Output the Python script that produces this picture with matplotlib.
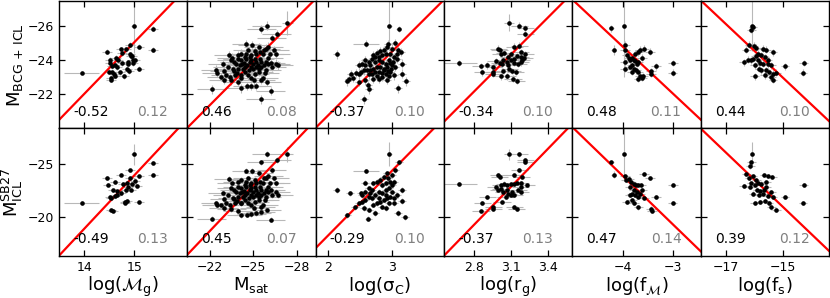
import matplotlib
matplotlib.use("Agg")
import matplotlib.pyplot as plt
import numpy as np

plt.rcParams['mathtext.fontset'] = 'dejavusans'

# ---- axes set-up -----------------------------------------------------------
x_labels = [r'log($\mathcal{M}_{\rm g}$)', r'M$_{\rm sat}$', r'log($\mathrm{\sigma_C}$)',
            r'log(r$_{\rm g}$)', r'log(f$_{\mathcal{M}}$)', r'log(f$_{\rm s}$)']
y_labels = [r'M$_{\rm BCG\,+\,ICL}$', r'M$_{\rm ICL}^{\rm SB27}$']
x_ticks = [[14, 15], [-22, -25, -28], [2, 3], [2.8, 3.1, 3.4], [-4, -3], [-17, -15]]
x_lims = [(13.49, 16.07), (-20.47, -29.29), (1.80, 3.82), (2.56, 3.60), (-5.03, -2.43), (-17.87, -13.40)]
y_ticks = [[-26, -24, -22], [-25, -20]]
y_lims = [(-20.0, -27.45), (-16.4, -28.4)]

# correlation coefficient (left, black) and scatter (right, grey)
corr_top = ['-0.52', '0.46', '-0.37', '-0.34', '0.48', '0.44']
scat_top = ['0.12', '0.08', '0.10', '0.10', '0.11', '0.10']
corr_bot = ['-0.49', '0.45', '-0.29', '-0.37', '0.47', '0.39']
scat_bot = ['0.13', '0.07', '0.10', '0.13', '0.14', '0.12']

# red relations: slope, intercept
slope_top = [-3.0, 0.855, -3.71, -7.23, 2.70, 1.58]
icpt_top = [19.98, -2.53, -13.35, -1.88, -13.95, 0.75]
slope_bot = [-5.0, 1.44, -6.06, -11.95, 4.5, 2.58]
icpt_bot = [51.05, 12.98, -6.21, 14.19, -5.88, 17.72]

# ---- data ------------------------------------------------------------------
mg_top_x = [13.95, 14.99, 15.37, 15.38, 15.10, 14.91, 14.46, 14.73, 14.83, 14.76, 14.52, 14.63, 14.67,
            14.91, 14.95, 14.87, 14.97, 15.01, 14.61, 14.66, 14.75, 14.87, 14.51, 14.55, 14.49, 14.55,
            14.59, 14.85, 14.90, 14.97, 15.10, 14.79, 14.53, 14.54, 14.62, 14.71, 14.93]
mg_top_y = [-23.26, -26.00, -25.83, -24.59, -24.76, -24.88, -24.47, -24.63, -24.61, -24.40, -24.01, -24.11,
            -24.01, -24.32, -24.20, -23.86, -24.01, -23.97, -23.72, -23.58, -23.80, -23.78, -23.82, -23.62,
            -23.31, -23.28, -23.16, -23.45, -23.35, -23.82, -23.49, -23.04, -22.97, -22.85, -23.08, -23.28, -24.20]
mg_bot_x = [13.95, 14.99, 15.37, 15.38, 15.10, 14.91, 14.46, 14.73, 14.48, 14.61, 14.78, 14.85, 14.95, 14.91,
            15.01, 14.58, 14.66, 14.65, 14.73, 14.51, 14.53, 14.61, 14.83, 14.93, 14.88, 15.05, 14.81, 14.82,
            14.85, 15.10, 14.54, 14.57]
mg_bot_y = [-21.38, -25.94, -25.16, -24.03, -23.88, -24.44, -23.72, -24.03, -23.09, -23.34, -23.19, -23.25,
            -23.19, -23.75, -23.44, -22.56, -22.47, -22.16, -22.31, -21.94, -21.88, -22.00, -22.56, -22.63,
            -22.88, -23.00, -21.47, -21.38, -21.59, -21.41, -20.75, -20.63]

msat_x = [-27.35, -25.94, -25.56, -26.61, -26.26, -24.52, -24.94, -25.38, -26.03, -26.44,
          -25.87, -25.75, -23.30, -23.53, -23.94, -24.18, -24.64, -25.10, -25.22, -25.45,
          -25.68, -26.14, -26.54, -26.03, -26.21, -26.54, -26.72, -25.91, -26.26, -25.80,
          -25.94, -26.21, -25.52, -25.22, -24.87, -24.59, -24.18, -22.14, -22.97, -22.79,
          -23.48, -23.94, -24.18, -22.44, -22.51, -23.02, -23.25, -23.60, -23.71, -23.48,
          -23.83, -24.06, -24.29, -24.41, -24.64, -24.87, -25.10, -25.38, -25.52, -25.68,
          -25.06, -24.13, -23.90, -23.76, -23.13, -23.37, -22.90, -23.94, -24.18, -24.41,
          -24.52, -24.75, -24.87, -24.99, -25.10, -25.22, -25.33, -25.45, -25.56, -24.36,
          -24.59, -24.82, -24.99, -24.69, -24.45, -24.22, -23.94, -23.71, -24.75, -24.52,
          -24.82, -25.22, -25.38, -25.56, -25.75, -25.87, -25.98]
msat_top_y = [-26.15, -26.00, -25.81, -25.52, -25.29, -24.94, -24.88, -24.74, -24.78, -24.55,
              -24.65, -24.59, -24.26, -24.13, -24.26, -24.36, -24.55, -24.51, -24.36, -24.45,
              -24.36, -24.36, -24.36, -24.13, -23.82, -23.78, -23.68, -23.39, -23.58, -23.24,
              -22.71, -22.17, -21.69, -22.46, -22.46, -22.46, -22.33, -22.27, -22.85, -23.00,
              -22.81, -22.71, -22.97, -23.43, -23.24, -23.35, -23.58, -23.49, -23.87, -23.97,
              -23.78, -23.68, -23.49, -23.29, -23.10, -22.97, -23.16, -23.29, -22.85, -22.97,
              -22.81, -23.10, -23.24, -23.10, -23.10, -23.00, -23.78, -24.07, -23.97, -24.16,
              -24.07, -24.16, -23.97, -23.78, -24.07, -23.87, -23.68, -24.07, -23.87, -23.82,
              -23.68, -23.58, -23.49, -23.39, -23.58, -23.78, -23.49, -23.35, -23.87, -24.36,
              -24.26, -23.58, -23.49, -23.58, -23.68, -23.87, -23.78]
msat_bot_y = [-25.97, -25.97, -25.19, -25.41, -24.47, -24.41, -24.38, -24.16, -23.94, -23.69,
              -23.75, -23.69, -23.63, -23.22, -23.38, -23.53, -23.69, -23.53, -23.22, -23.38,
              -23.22, -23.22, -23.22, -22.91, -22.59, -22.44, -22.13, -21.97, -22.13, -21.66,
              -20.72, -19.78, -20.50, -20.41, -20.31, -20.25, -20.19, -19.88, -20.88, -21.13,
              -20.81, -20.63, -21.34, -21.34, -21.13, -21.75, -22.13, -21.88, -22.59, -22.75,
              -22.44, -22.28, -21.97, -21.66, -21.34, -21.13, -21.44, -21.66, -20.94, -21.13,
              -20.88, -21.34, -21.56, -21.34, -21.34, -21.19, -22.28, -22.91, -22.75, -23.06,
              -22.91, -23.06, -22.75, -22.44, -22.91, -22.59, -22.28, -22.91, -22.59, -22.50,
              -22.28, -22.13, -21.97, -21.81, -22.13, -22.44, -21.97, -21.75, -22.59, -23.38,
              -23.22, -22.13, -21.97, -22.13, -22.28, -22.59, -22.44]

sig_top_x = [2.96, 3.11, 2.59, 2.13, 3.05, 2.94, 2.92, 3.00, 3.10, 3.15,
             2.87, 2.82, 2.77, 2.71, 2.84, 2.90, 2.97, 3.03, 3.08, 3.16,
             2.58, 2.64, 2.53, 2.48, 2.58, 2.66, 2.74, 2.79, 2.84, 2.90,
             2.95, 3.00, 3.05, 2.92, 2.87, 2.82, 2.77, 2.71, 2.66, 2.61,
             2.56, 2.51, 2.43, 2.35, 2.48, 2.64, 2.74, 2.79, 2.84, 2.90,
             2.97, 3.04, 3.16, 2.30, 2.32, 2.38, 2.48, 2.58, 2.63, 2.64,
             2.79, 2.84, 2.92, 2.95, 3.10, 3.22, 2.56, 2.69, 2.77, 2.71,
             2.87, 2.94, 2.99, 3.01, 2.79, 2.69, 2.74, 2.97, 3.08]
sig_top_y = [-26.00, -25.81, -24.94, -24.32, -24.98, -24.90, -24.74, -24.65, -24.55, -24.45,
             -24.59, -24.51, -24.40, -24.26, -24.26, -24.36, -24.32, -24.16, -24.07, -23.78,
             -23.97, -23.87, -23.78, -23.68, -23.68, -23.68, -23.87, -23.97, -23.87, -23.78,
             -23.97, -23.68, -23.58, -23.58, -23.49, -23.58, -23.58, -23.49, -23.39, -23.39,
             -23.39, -23.29, -23.24, -23.16, -23.16, -23.16, -23.29, -23.29, -23.24, -23.16,
             -23.29, -23.10, -23.20, -22.75, -22.91, -22.97, -22.71, -22.81, -22.52, -22.27,
             -22.91, -23.00, -22.85, -23.04, -22.33, -22.75, -21.69, -23.20, -23.04, -22.91,
             -23.39, -23.35, -23.49, -23.87, -24.16, -24.07, -24.16, -23.82, -24.36]
sig_bot_x = [2.96, 2.59, 2.13, 3.11, 3.05, 2.92, 3.00, 2.87, 2.94, 2.82,
             2.77, 2.71, 2.58, 3.16, 2.34, 2.51, 2.58, 2.53, 2.64, 2.69,
             2.84, 2.90, 2.97, 3.03, 2.95, 2.79, 2.84, 2.90, 3.00, 3.08,
             2.64, 2.69, 2.74, 2.79, 2.58, 2.53, 2.48, 2.42, 2.30, 2.56,
             2.64, 2.63, 2.74, 2.90, 2.84, 2.95, 3.04, 3.16, 3.10, 3.21,
             2.71, 2.77, 2.82, 2.87, 2.92, 2.97, 3.03, 2.66, 2.90, 3.00]
sig_bot_y = [-25.97, -24.38, -22.59, -25.19, -24.47, -24.16, -24.00, -23.84, -23.69, -23.53,
             -23.38, -23.22, -23.28, -22.59, -22.28, -22.28, -22.44, -22.13, -22.75, -22.59,
             -23.06, -23.22, -23.31, -23.38, -22.81, -22.44, -22.28, -22.59, -22.44, -22.13,
             -21.97, -21.81, -22.13, -21.81, -21.66, -21.50, -21.34, -20.94, -20.19, -20.88,
             -20.72, -19.88, -20.41, -20.88, -21.03, -21.34, -21.34, -21.56, -20.41, -20.00,
             -21.19, -21.34, -21.50, -21.66, -21.81, -21.97, -21.81, -22.28, -22.13, -23.06]

rg_top_x = [2.68, 3.09, 3.17, 3.22, 3.22, 3.17, 3.13, 3.00, 3.01, 3.05,
            3.10, 3.08, 3.02, 2.98, 3.04, 3.07, 3.10, 3.13, 3.15, 3.18,
            3.19, 3.16, 3.13, 3.08, 3.03, 3.01, 2.96, 2.91, 2.86, 2.87,
            2.96, 2.96, 3.02, 3.07, 3.04, 3.09, 3.11, 3.14, 3.12, 3.15,
            3.18, 3.21, 3.22, 3.18]
rg_top_y = [-23.82, -26.17, -26.00, -25.85, -25.52, -24.84, -24.78, -24.65, -24.55, -24.40,
            -24.32, -24.16, -24.32, -23.91, -23.97, -23.87, -24.01, -24.07, -24.20, -24.16,
            -23.97, -23.78, -23.82, -23.68, -23.74, -23.82, -23.58, -23.68, -23.64, -23.28,
            -23.20, -23.29, -23.04, -23.04, -23.35, -23.49, -23.35, -23.29, -22.91, -22.77,
            -23.87, -24.13, -24.32, -24.45]
rg_bot_x = [2.68, 3.09, 3.17, 3.22, 3.22, 3.17, 3.13, 3.00, 3.01, 3.05,
            3.10, 3.02, 3.07, 3.13, 3.15, 3.18, 3.23, 3.18, 3.16, 3.11,
            3.08, 3.06, 3.03, 2.96, 2.96, 2.87, 2.91, 2.86, 3.00, 3.04,
            3.10, 3.13, 3.15, 3.13, 3.18, 2.98, 3.02, 3.07, 3.19]
rg_bot_y = [-23.13, -25.94, -25.94, -25.38, -25.19, -24.44, -23.97, -24.03, -23.81, -23.19,
            -23.13, -23.03, -23.03, -23.13, -23.25, -23.25, -23.09, -22.88, -22.63, -22.41,
            -22.25, -21.94, -21.47, -21.00, -20.84, -21.38, -21.94, -20.63, -22.56, -22.41,
            -22.09, -22.09, -20.84, -21.00, -22.41, -22.88, -22.72, -22.56, -23.81]

fm_top_x = [-4.24, -4.19, -3.99, -3.97, -3.97, -3.93, -3.96, -3.96, -3.89, -3.86, -3.83, -3.79,
            -3.76, -3.72, -3.69, -3.83, -3.87, -3.79, -3.74, -3.69, -3.83, -3.66,
            -3.69, -3.62, -3.59, -3.44, -3.44, -3.46, -3.58, -3.66, -3.62, -3.34,
            -2.99, -3.00, -3.76, -3.69]
fm_top_y = [-25.85, -24.59, -26.00, -24.88, -24.59, -24.26, -23.87, -23.49, -24.13, -23.97, -24.13, -24.01,
            -23.91, -23.78, -23.87, -23.68, -23.58, -23.49, -23.39, -23.29, -23.29, -23.04,
            -22.91, -22.97, -23.04, -23.35, -23.20, -24.49, -24.65, -24.59, -24.13, -23.62,
            -23.82, -23.24, -24.36, -24.45]
fm_bot_x = [-4.24, -4.19, -3.98, -3.96, -3.94, -3.89, -3.85, -3.79, -3.74, -3.69, -3.64, -3.86,
            -3.79, -3.72, -3.83, -3.66, -3.76, -3.69, -3.93, -3.78, -3.69, -3.58,
            -3.46, -3.58, -3.44, -3.42, -3.34, -2.99, -3.00, -3.83, -3.62, -3.87]
fm_bot_y = [-25.22, -24.03, -25.94, -23.88, -23.50, -23.66, -23.34, -23.19, -23.03, -23.09, -23.03, -22.88,
            -22.63, -22.41, -22.25, -22.25, -22.09, -21.94, -21.47, -21.38, -20.94, -24.06,
            -23.72, -21.88, -20.84, -20.63, -21.94, -23.09, -21.38, -21.63, -22.56, -22.09]

fs_top_x = [-16.07, -16.05, -16.10, -16.19, -16.28, -16.02, -15.93, -15.70, -15.58, -15.35,
            -15.87, -15.76, -15.64, -15.95, -16.05, -16.37, -16.10, -15.87, -15.81, -15.70,
            -15.52, -15.41, -15.84, -15.76, -15.60, -15.49, -15.35, -15.23, -15.64, -15.41,
            -15.35, -15.99, -14.93, -14.28, -14.30, -16.22, -15.52, -15.99]
fs_top_y = [-26.00, -25.90, -25.75, -24.88, -24.59, -24.84, -24.71, -24.65, -24.59, -24.45,
            -24.36, -24.26, -24.16, -24.20, -24.07, -23.87, -23.97, -23.97, -23.82, -23.78,
            -23.74, -23.68, -23.49, -23.39, -23.39, -23.29, -23.20, -23.24, -23.10, -23.00,
            -22.85, -23.04, -23.62, -23.82, -23.24, -24.01, -24.01, -23.68]
fs_bot_x = [-16.07, -16.10, -16.14, -16.28, -16.19, -16.05, -15.93, -15.67, -15.52, -15.37,
            -15.87, -15.76, -15.58, -16.37, -16.16, -15.99, -15.91, -15.81, -15.67, -15.41,
            -16.05, -15.84, -15.70, -15.52, -15.35, -15.99, -15.81, -15.64, -15.49, -15.41,
            -15.23, -14.93, -14.28, -14.30, -16.10, -15.58]
fs_bot_y = [-25.94, -25.22, -24.81, -24.06, -23.75, -23.88, -23.56, -24.03, -23.88, -23.81,
            -23.25, -23.19, -23.34, -22.94, -22.88, -23.03, -22.63, -22.50, -22.63, -22.41,
            -22.25, -22.09, -22.19, -22.00, -21.94, -21.38, -21.47, -21.53, -21.38, -20.94,
            -20.69, -21.94, -23.09, -21.38, -23.25, -22.88]

# typical errors per column, plus larger errors for the first points of each panel
typ_xerr = [0.1, 1.0, 0.06, 0.07, 0.1, 0.15]
typ_yerr = [0.15, 0.25, 0.25, 0.2, 0.2, 0.2]
big_xerr_top = [[0.35, 0.05], [0.4], [0.04, 0.04, 0.2], [0.15, 0.04], [0.05, 0.05, 0.03], [0.05]]
big_yerr_top = [[0.1, 1.6], [0.7], [1.5, 0.2, 0.2], [0.2, 0.5], [0.2, 0.3, 3.0], [1.5]]
big_xerr_bot = [[0.35, 0.05], [0.4], [0.04, 0.2], [0.15, 0.04], [0.05, 0.05, 0.03], [0.05]]
big_yerr_bot = [[0.2, 1.0], [0.7], [1.1, 0.2], [0.2, 0.5], [0.2, 0.3, 2.5], [1.2]]

top_x = [mg_top_x, msat_x, sig_top_x, rg_top_x, fm_top_x, fs_top_x]
top_y = [mg_top_y, msat_top_y, sig_top_y, rg_top_y, fm_top_y, fs_top_y]
bot_x = [mg_bot_x, msat_x, sig_bot_x, rg_bot_x, fm_bot_x, fs_bot_x]
bot_y = [mg_bot_y, msat_bot_y, sig_bot_y, rg_bot_y, fm_bot_y, fs_bot_y]

fig, axes = plt.subplots(2, 6, figsize=(8.3, 2.98), dpi=100, sharex='col', sharey='row')
fig.subplots_adjust(left=0.0711, right=0.9988, top=0.997, bottom=0.142, wspace=0, hspace=0)

rows = [(top_x, top_y, corr_top, scat_top, slope_top, icpt_top, big_xerr_top, big_yerr_top),
        (bot_x, bot_y, corr_bot, scat_bot, slope_bot, icpt_bot, big_xerr_bot, big_yerr_bot)]

for r, (xs, ys, corr, scat, slope, icpt, bxe, bye) in enumerate(rows):
    for c in range(6):
        ax = axes[r, c]
        x = np.array(xs[c])
        y = np.array(ys[c])
        xe = np.full(len(x), typ_xerr[c])
        ye = np.full(len(x), typ_yerr[c])
        xe[:len(bxe[c])] = bxe[c]
        ye[:len(bye[c])] = bye[c]
        ax.errorbar(x, y, xerr=xe, yerr=ye, fmt='none', ecolor='0.72', elinewidth=0.8,
                    capsize=0, zorder=1)
        xl = np.array(x_lims[c])
        ax.plot(xl, slope[c] * xl + icpt[c], color='red', lw=1.6, zorder=2)
        ax.plot(x, y, 'o', color='k', ms=3.3, mec='none', zorder=3)

        ax.text(0.11, 0.13, corr[c], transform=ax.transAxes, fontsize=10, color='k',
                ha='left', va='center')
        ax.text(0.85, 0.13, scat[c], transform=ax.transAxes, fontsize=10, color='gray',
                ha='right', va='center')

        ax.set_xlim(x_lims[c])
        ax.set_ylim(y_lims[r])
        ax.set_xticks(x_ticks[c])
        ax.set_yticks(y_ticks[r])
        ax.tick_params(direction='in', top=True, right=True, length=4, width=0.9, labelsize=9)
        for s in ax.spines.values():
            s.set_linewidth(1.0)
        if r == 1:
            ax.set_xlabel(x_labels[c], fontsize=13, labelpad=1)
    axes[r, 0].set_ylabel(y_labels[r], fontsize=13, labelpad=2)

fig.savefig('out.png', dpi=100)
